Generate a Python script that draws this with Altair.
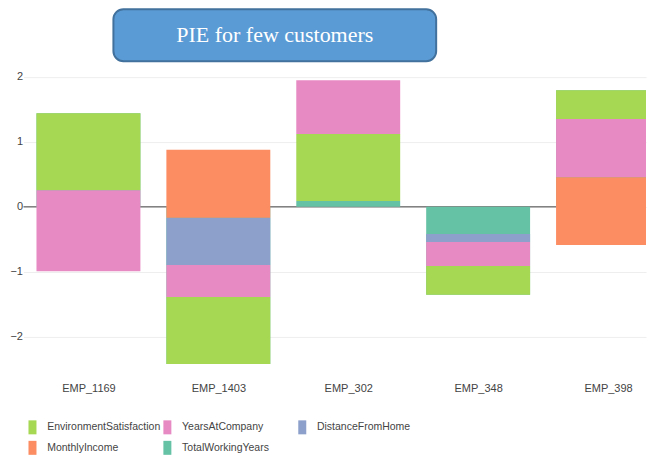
import altair as alt
import pandas as pd

# ---- data ----
employees = ["EMP_1169", "EMP_1403", "EMP_302", "EMP_348", "EMP_398"]
# stacking order of the features (cumulative, plotly "stack" mode)
stack_features = ["TotalWorkingYears", "EnvironmentSatisfaction", "YearsAtCompany",
                  "DistanceFromHome", "MonthlyIncome"]
total_working_years = [1.440, -2.416, 0.088, -1.351, 1.793]
environment_satisfaction = [-1.183, 1.029, 1.032, 0.440, -0.441]
years_at_company = [-1.247, 0.491, 0.826, 0.369, -0.896]
distance_from_home = [0.0, 0.727, 0.0, 0.123, 0.0]
monthly_income = [0.0, 1.049, 0.0, 0.0, -1.044]

legend_order = ["EnvironmentSatisfaction", "YearsAtCompany", "DistanceFromHome",
                "MonthlyIncome", "TotalWorkingYears"]
legend_colors = ["#a6d854", "#e78ac3", "#8da0cb", "#fc8d62", "#66c2a5"]
y_ticks = [-2, -1, 0, 1, 2]
chart_title = "PIE for few customers"

series = {
    "TotalWorkingYears": total_working_years,
    "EnvironmentSatisfaction": environment_satisfaction,
    "YearsAtCompany": years_at_company,
    "DistanceFromHome": distance_from_home,
    "MonthlyIncome": monthly_income,
}

BAR_HALF = 0.4  # bar occupies 80% of each category slot
rows = []
idx = 0
for i, emp in enumerate(employees):
    cum = 0.0
    for feat in stack_features:
        v = series[feat][i]
        if v != 0:
            rows.append({"employee": emp, "pos": i, "x0": i - BAR_HALF,
                         "x1": i + BAR_HALF, "feature": feat, "start": cum,
                         "end": cum + v, "idx": idx})
            idx += 1
        cum += v
df = pd.DataFrame(rows)

FONT = "Liberation Sans, Arial, sans-serif"
W, H = 623, 305
STEP = 130  # pixels per category slot

y_scale = alt.Scale(domain=[-2.585, 2.103], nice=False, zero=False)
x_scale = alt.Scale(domain=[-0.5, W / STEP - 0.5], nice=False, zero=False, clamp=True)

label_list = "[" + ",".join("'%s'" % e for e in employees) + "]"
x_axis = alt.Axis(title=None, values=list(range(len(employees))),
                  labelExpr=label_list + "[datum.value]",
                  labelAngle=0, domain=False, ticks=False, labelFlush=False,
                  labelPadding=8, labelFont=FONT, labelFontSize=11,
                  labelColor="#444", grid=False)
y_axis = alt.Axis(title=None, values=y_ticks, domain=False, ticks=False,
                  labelPadding=1, labelFont=FONT, labelFontSize=11,
                  labelColor="#444", grid=True, gridColor="#eeeeee", gridWidth=1)

zero_line = alt.Chart(pd.DataFrame({"start": [0]})).mark_rule(
    color="#444", strokeWidth=1
).encode(
    y=alt.Y("start:Q", scale=y_scale, axis=y_axis),
    x=alt.value(0),
    x2=alt.value(W),
)

bars = alt.Chart(df).mark_rect().encode(
    x=alt.X("x0:Q", scale=x_scale, axis=x_axis),
    x2="x1:Q",
    y=alt.Y("start:Q", scale=y_scale, axis=y_axis),
    y2="end:Q",
    color=alt.Color("feature:N",
                    scale=alt.Scale(domain=legend_order, range=legend_colors),
                    legend=alt.Legend(title=None, orient="none", legendX=2,
                                      legendY=350.5, direction="horizontal",
                                      columns=3, gridAlign="all",
                                      columnPadding=0, rowPadding=6.5,
                                      symbolType="M-0.571,-1H0.571V1H-0.571Z",
                                      symbolSize=196, symbolStrokeWidth=0,
                                      symbolOpacity=1, labelFont=FONT,
                                      labelFontSize=10.5, labelColor="#444",
                                      labelOffset=7.7, padding=0)),
    order=alt.Order("idx:Q"),
)

title_df = pd.DataFrame({"t": [chart_title]})
box = alt.Chart(title_df).mark_rect(
    cornerRadius=10, fill="#5b9bd5", stroke="#41719c", strokeWidth=2
).encode(
    x=alt.value(90), x2=alt.value(413), y=alt.value(-61), y2=alt.value(-9)
)
title_text = alt.Chart(title_df).mark_text(
    font="Liberation Serif", fontSize=22, color="white",
    align="center", baseline="alphabetic"
).encode(
    text="t:N", x=alt.value(251.5), y=alt.value(-27.7)
)

chart = alt.layer(zero_line, bars, box, title_text).properties(
    width=W, height=H,
    padding={"left": 1.5, "top": 0, "right": 0, "bottom": 0},
    background="white",
).configure_view(stroke=None)

chart.save("out.html", embed_options={"renderer": "svg", "actions": False})
